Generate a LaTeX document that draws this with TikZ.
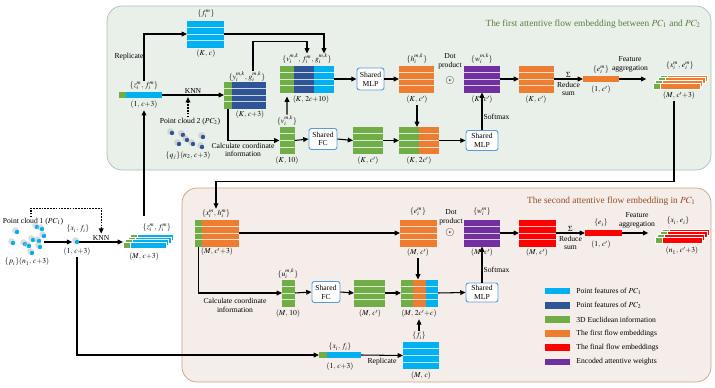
\documentclass[tikz,border=0pt]{standalone}
\usepackage{mathptmx}
\usepackage{fontspec}
\setmainfont{Liberation Serif}
\usetikzlibrary{positioning,arrows.meta,calc}
\definecolor{PtOne}{RGB}{0,176,240}
\definecolor{PtTwo}{RGB}{47,85,151}
\definecolor{Eucl}{RGB}{112,173,71}
\definecolor{FlowA}{RGB}{237,125,49}
\definecolor{FlowB}{RGB}{255,0,0}
\definecolor{Attn}{RGB}{112,48,160}
\definecolor{BoxLine}{RGB}{91,155,213}
\definecolor{TopBg}{RGB}{233,240,233}
\definecolor{TopLine}{RGB}{170,195,170}
\definecolor{TopTitle}{RGB}{90,125,60}
\definecolor{BotBg}{RGB}{245,237,233}
\definecolor{BotLine}{RGB}{205,160,130}
\definecolor{BotTitle}{RGB}{150,75,35}

\begin{document}
\begin{tikzpicture}[x=0.03cm,y=-0.03cm,
    every node/.style={font=\fontsize{6.5}{7.5}\selectfont,inner sep=1pt},
    blk/.style={rectangle,inner sep=0pt,outer sep=0pt,minimum height=0.81cm,stripes},
    strip/.style={rectangle,inner sep=0pt,outer sep=0pt,minimum height=0.18cm},
    stk/.style={strip,draw=white,line width=0.3pt},
    shared/.style={rectangle,rounded corners=2pt,draw=BoxLine,fill=white,line width=0.8pt,align=center,minimum width=0.84cm,minimum height=0.63cm,inner sep=0pt},
    title/.style={font=\fontsize{8}{9.5}\selectfont,anchor=east},
    txt/.style={align=center},
    odot/.style={font=\fontsize{10}{10}\selectfont},
    arr/.style={-{Triangle[length=4.5pt,width=4pt]},line width=0.9pt},
    dotarr/.style={arr,dash pattern=on 1.4pt off 1pt},
    swatch/.style={rectangle,minimum width=0.75cm,minimum height=0.2cm,inner sep=0pt},
    stripes/.style={path picture={
      \foreach \q in {0.25,0.5,0.75}
        \draw[white,opacity=0.75,line width=0.5pt]
          ($(path picture bounding box.north west)!\q!(path picture bounding box.south west)$)
          -- ($(path picture bounding box.north east)!\q!(path picture bounding box.south east)$);
    }}
]
\useasboundingbox (0,0) rectangle (715,388);

% Panels
\draw[rounded corners=0.45cm,fill=TopBg,draw=TopLine,line width=0.6pt] (107,6) rectangle (711,170);
\draw[rounded corners=0.45cm,fill=BotBg,draw=BotLine,line width=0.6pt] (182,188) rectangle (711,382);
\node[title,text=TopTitle] (toptitle) at (702,24) {The first attentive flow embedding between $PC_1$ and $PC_2$};
\node[title,text=BotTitle] (bottitle) at (697,201) {The second attentive flow embedding in $PC_1$};

% Point cloud 1
\node (pc1lbl) at (33,222) {Point cloud 1 ($PC_1$)};
\foreach \px/\py in {17/232,37/227,42/229,44/236,13/243,25/244,33/240,39/241,29/246,40/247,32/253} {
  \fill[gray!55,opacity=0.5] (\px-1.5,\py-1.5) circle[radius=0.1cm];
  \fill[PtOne] (\px,\py) circle[radius=0.065cm];
}
\node (pc1dim) at (27,262) {$\{p_i\}(n_1,\,c{+}3)$};
\coordinate (pc1out) at (44,242);

% Sampled centre point
\fill[gray!55,opacity=0.5] (75.5,240.5) circle[radius=0.1cm];
\node[circle,fill=PtOne,inner sep=0pt,minimum size=0.13cm] (xdot) at (77,242) {};
\node (xlbl) at (78,229) {$\{x_i,\,f_i\}$};
\node (xdim) at (77,252) {$(1,\,c{+}3)$};
\draw[arr,shorten >=2pt] (pc1out) -- (xdot.west);

% Grouped points
\foreach \i in {3,2,1,0} {
  \node[stk,fill=Eucl,minimum width=0.21cm,anchor=west] (zfG\i) at (123+2.5*\i,245-2.6*\i) {};
  \node[stk,fill=PtOne,minimum width=1.08cm,right=0pt of zfG\i] (zfC\i) {};
}
\node (zflbl) at (157,228) {$\{z_i^m,\,f_i^m\}$};
\node (zfdim) at (144,257) {$(M,\,c{+}3)$};
\draw[arr] (xdot.east) -- node[above] (knnone) {KNN} (xdot.east -| zfG0.west);
\draw[dotarr] ([xshift=-0.06cm]pc1lbl.north) -- ++(0,-9) -| (knnone.north);
\coordinate (zfup) at (144,216);

% ---- First attentive flow embedding ----
% Replicate branch
\node[blk,fill=PtOne,minimum width=1.11cm] (fblk) at (205.5,34) {};
\node (flbl) at (206,14) {$\{f_i^m\}$};
\node (fdim) at (206,54) {$(K,\,c)$};

% Centre point strip
\node[strip,fill=Eucl,minimum width=0.21cm,anchor=west] (zG) at (119,95) {};
\node[strip,fill=PtOne,minimum width=1.08cm,right=0pt of zG] (zC) {};
\node (zlbl) at (144,86) {$\{z_i^m,\,f_i^m\}$};
\node (zdim) at (144,105) {$(1,\,c{+}3)$};
\node (replA) at (129,57) {Replicate};
\draw[arr] (zfup) -- (zdim.south);

% Neighbours from point cloud 2
\node[blk,fill=Eucl,minimum width=0.24cm,anchor=west] (ygG) at (224,95) {};
\node[blk,fill=PtTwo,minimum width=1.02cm,right=0pt of ygG] (ygD) {};
\node (yglbl) at (247,77) {$\{y_i^{m,k},\,g_i^{m,k}\}$};
\node (ygdim) at (250,115) {$(K,\,c{+}3)$};
\node (pc2lbl) at (190,122) {Point cloud 2 ($PC_2$)};
\foreach \px/\py in {172/133,183/135,187/140,193/144,203/137,179/144,202/147} {
  \fill[gray!55,opacity=0.5] (\px-1.5,\py-1.5) circle[radius=0.1cm];
  \fill[PtTwo] (\px,\py) circle[radius=0.065cm];
}
\node (pc2dim) at (188,156) {$\{q_j\}(n_2,\,c{+}3)$};

% Concatenated neighbour features
\node[blk,fill=Eucl,minimum width=0.42cm,anchor=west] (vfgG) at (280,79) {};
\node[blk,fill=PtTwo,minimum width=0.6cm,right=0pt of vfgG] (vfgD) {};
\node[blk,fill=PtOne,minimum width=0.6cm,right=0pt of vfgD] (vfgC) {};
\node (vfglbl) at (307,59) {$\{v_i^{m,k},\,f_i^m,\,g_i^{m,k}\}$};
\node (vfgdim) at (311,100) {$(K,\,2c{+}10)$};

% Coordinate branch
\node[blk,fill=Eucl,minimum width=0.45cm] (vblk) at (287,140.5) {};
\node (vlbl) at (287,121) {$\{v_i^{m,k}\}$};
\node (vdim) at (287,161) {$(K,\,10)$};
\node[txt] (calcA) at (243,150) {Calculate coordinate\\information};
\node[shared] (fcA) at (323,139) {Shared\\FC};
\node[blk,fill=Eucl,minimum width=0.9cm] (gA) at (368,140.5) {};
\node (gAdim) at (368,161) {$(K,\,c')$};
\node[blk,fill=Eucl,minimum width=0.6cm,anchor=west] (kkG) at (399,140.5) {};
\node[blk,fill=FlowA,minimum width=0.6cm,right=0pt of kkG] (kkO) {};
\node (kkdim) at (419,161) {$(K,\,2c')$};
\node[shared,minimum width=0.96cm,minimum height=0.6cm] (mlpB) at (482,140.5) {Shared\\MLP};

% Feature branch
\node[shared,minimum width=0.81cm,minimum height=0.66cm] (mlpA) at (370.5,79) {Shared\\MLP};
\node[blk,fill=FlowA,minimum width=1.05cm] (hblk) at (416.5,79) {};
\node (hlbl) at (417,59) {$\{h_i^{m,k}\}$};
\node (hdim) at (417,100) {$(K,\,c')$};
\node[txt] (dotA) at (450,61) {Dot\\product};
\node[odot] (odotA) at (450,81) {$\odot$};
\node[blk,fill=Attn,minimum width=1.08cm] (wblk) at (482,79) {};
\node (wlbl) at (482,59) {$\{w_i^{m,k}\}$};
\node (wdim) at (482,100) {$(K,\,c')$};
\node[blk,fill=FlowA,minimum width=1.05cm] (oblk) at (536.5,79) {};
\node (odim) at (536,100) {$(K,\,c')$};
\node[strip,fill=FlowA,minimum width=1.08cm] (estrip) at (601,79) {};
\node (elbl) at (601,70) {$\{e_i^m\}$};
\node (edim) at (601,90) {$(1,\,c')$};
\node[txt] (featA) at (630,64) {Feature\\aggregation};
\foreach \i in {3,2,1,0} {
  \node[stk,fill=Eucl,minimum width=0.21cm,anchor=west] (xeG\i) at (653+2.5*\i,86-2.7*\i) {};
  \node[stk,fill=FlowA,minimum width=1.2cm,right=0pt of xeG\i] (xeO\i) {};
}
\node (xelbl) at (680,66) {$\{x_i^m,\,e_i^m\}$};
\node (xedim) at (679,96) {$(M,\,c'{+}3)$};

% Connectors of the first embedding
\draw[arr] (zlbl.north) |- (fblk.west);
\draw[arr] (fblk.east) -| ([yshift=0.36cm]vfgC.north);
\draw[arr] ([xshift=0.18cm]yglbl.north) -- ++(0,-29) -| ([xshift=0.09cm,yshift=0.36cm]vfgD.north);
\draw[arr] (zC.east) -- node[above] (knntwo) {KNN} (ygG.west);
\draw[dotarr] ([xshift=-0.06cm]pc2lbl.north) -- ++(0,-20);
\draw[arr] (ygG.south) |- (vblk.west);
\draw[arr] (vlbl.north) -- ([yshift=-0.12cm]vfgG.south);
\draw[arr] (vblk.east) -- (fcA.west);
\draw[arr] (fcA.east) -- (gA.west);
\draw[arr] (gA.east) -- (kkG.west);
\draw[arr] (kkO.east) -- (mlpB.west);
\draw[arr] (mlpB.north) -- node[pos=0.35,right] {Softmax} (wblk.south);
\draw[arr] (vfgC.east) -- (mlpA.west);
\draw[arr] (mlpA.east) -- (hblk.west);
\draw[arr] (hdim.south) -- (hdim.south |- kkG.north);
\draw[arr] (wblk.east) -- (oblk.west);
\draw[arr] (oblk.east) -- node[above] {$\Sigma$} node[below=1pt,txt] {Reduce\\sum} (estrip.west);
\draw[arr,shorten >=0.2cm] (estrip.east) -- (estrip.east -| xeG0.west);

% ---- Second attentive flow embedding ----
\node[blk,fill=Eucl,minimum width=0.21cm,anchor=west] (xhG) at (195,233) {};
\node[blk,fill=FlowA,minimum width=1.11cm,right=0pt of xhG] (xhO) {};
\node (xhlbl) at (216,214) {$\{x_i^m,\,h_i^m\}$};
\node (xhdim) at (217,252) {$(M,\,c'{+}3)$};
\node[blk,fill=FlowA,minimum width=1.11cm] (eblk) at (418.5,233) {};
\node (eblklbl) at (418,212) {$\{e_i^m\}$};
\node (eblkdim) at (418,253) {$(M,\,c')$};
\node[txt] (dotB) at (451,217) {Dot\\product};
\node[odot] (odotB) at (450,233) {$\odot$};
\node[blk,fill=Attn,minimum width=1.08cm] (wblkB) at (482,233) {};
\node (wBlbl) at (482,212) {$\{w_i^m\}$};
\node (wBdim) at (482,253) {$(M,\,c')$};
\node[blk,fill=FlowB,minimum width=1.11cm] (rblk) at (537.5,233) {};
\node (rdim) at (537,253) {$(M,\,c')$};
\node[strip,fill=FlowB,minimum width=1.11cm] (erstrip) at (603.5,233) {};
\node (erlbl) at (601,223) {$\{e_i\}$};
\node (erdim) at (601,245) {$(1,\,c')$};
\node[txt] (featB) at (637,220) {Feature\\aggregation};
\foreach \i in {3,2,1,0} {
  \node[stk,fill=Eucl,minimum width=0.21cm,anchor=west] (xe2G\i) at (655+2.5*\i,240-2.7*\i) {};
  \node[stk,fill=FlowB,minimum width=1.2cm,right=0pt of xe2G\i] (xe2R\i) {};
}
\node (xe2lbl) at (678,221) {$\{x_i,\,e_i\}$};
\node (xe2dim) at (682,251) {$(n_1,\,c'{+}3)$};

% Link between the two embeddings
\draw[arr] ([xshift=-0.15cm]xedim.south) -- ++(0,80) -| (xhlbl.north);

% Coordinate branch
\node[blk,fill=Eucl,minimum width=0.39cm] (ublk) at (288.5,293) {};
\node (ulbl) at (288,274) {$\{u_i^{m,k}\}$};
\node (udim) at (288,314) {$(M,\,10)$};
\node[txt] (calcB) at (235,305) {Calculate coordinate\\information};
\node[shared] (fcB) at (326,292) {Shared\\FC};
\node[blk,fill=Eucl,minimum width=0.93cm] (gB) at (369.5,293) {};
\node (gBdim) at (370,314) {$(M,\,c')$};
\node[blk,fill=Eucl,minimum width=0.36cm,anchor=west] (mmG) at (401,293) {};
\node[blk,fill=FlowA,minimum width=0.39cm,right=0pt of mmG] (mmO) {};
\node[blk,fill=PtOne,minimum width=0.36cm,right=0pt of mmO] (mmC) {};
\node (mmdim) at (419,314) {$(M,\,2c'{+}c)$};
\node[shared,minimum width=0.96cm,minimum height=0.57cm] (mlpC) at (482,292.5) {Shared\\MLP};

% Centre point features
\node[strip,fill=Eucl,minimum width=0.24cm,anchor=west] (xfG) at (319,355) {};
\node[strip,fill=PtOne,minimum width=1.02cm,right=0pt of xfG] (xfC) {};
\node (xflbl) at (340,347) {$\{x_i,\,f_i\}$};
\node (xfdim) at (340,367) {$(1,\,c{+}3)$};
\node[blk,fill=PtOne,minimum width=1.08cm] (fiblk) at (421,355.5) {};
\node (filbl) at (419,336) {$\{f_i\}$};
\node (fidim) at (421,376) {$(M,\,c)$};

% Connectors of the second embedding
\draw[arr] (xdim.south) |- (xfG.west);
\draw[arr] (xhO.east) -- (eblk.west);
\draw[arr] (xhG.south) |- (ublk.west);
\draw[arr] (ublk.east) -- (fcB.west);
\draw[arr] (fcB.east) -- (gB.west);
\draw[arr] (gB.east) -- (mmG.west);
\draw[arr] (mmC.east) -- (mlpC.west);
\draw[arr] (mlpC.north) -- node[pos=0.35,right] {Softmax} (wblkB.south);
\draw[arr] (eblkdim.south) -- (eblkdim.south |- mmO.north);
\draw[arr] (filbl.north) -- (mmdim.south);
\draw[arr] (xfC.east) -- node[below=1pt] {Replicate} (fiblk.west);
\draw[arr] (wblkB.east) -- (rblk.west);
\draw[arr] (rblk.east) -- node[above] {$\Sigma$} node[below=1pt,txt] {Reduce\\sum} (erstrip.west);
\draw[arr,shorten >=0.2cm] (erstrip.east) -- (erstrip.east -| xe2G0.west);

% Legend
\foreach \c/\t [count=\k from 0] in {PtOne/{Point features of $PC_1$},PtTwo/{Point features of $PC_2$},Eucl/{3D Euclidean information},FlowA/{The first flow embeddings},FlowB/{The final flow embeddings},Attn/{Encoded attentive weights}} {
  \node[swatch,fill=\c] (key\k) at (557.5,291+14.2*\k) {};
  \node[anchor=west] (keytxt\k) at (575,291+14.2*\k) {\t};
}
\end{tikzpicture}
\end{document}
